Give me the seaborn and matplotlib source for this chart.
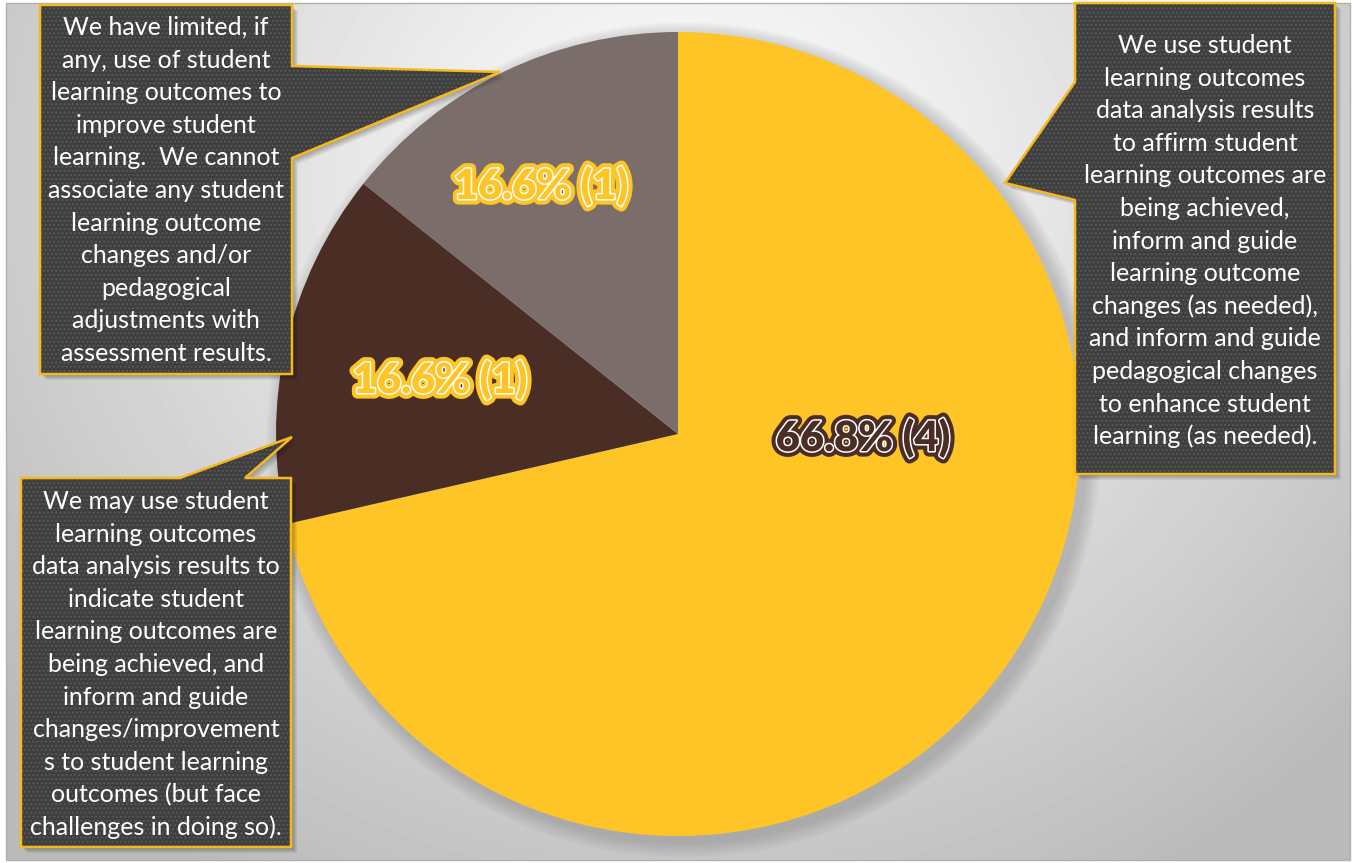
import numpy as np
import matplotlib
matplotlib.use("Agg")
import matplotlib.pyplot as plt
import matplotlib.patheffects as pe
from matplotlib.patches import Polygon, Circle, Rectangle
import seaborn as sns

# shares as drawn in the picture, and the labels printed on the slices
slice_share = [71.4, 14.3, 14.3]
label_pct = [66.8, 16.6, 16.6]
label_count = [4, 1, 1]
slice_colors = ["#FFC425", "#4A2E25", "#7B6E6A"]

callout_texts = [
    ["We use student", "learning outcomes", "data analysis results", "to affirm student",
     "learning outcomes are", "being achieved,", "inform and guide", "learning outcome",
     "changes (as needed),", "and inform and guide", "pedagogical changes",
     "to enhance student", "learning (as needed)."],
    ["We may use student", "learning outcomes", "data analysis results to", "indicate student",
     "learning outcomes are", "being achieved, and", "inform and guide",
     "changes/improvement", "s to student learning", "outcomes (but face",
     "challenges in doing so)."],
    ["We have limited, if", "any, use of student", "learning outcomes to", "improve student",
     "learning.  We cannot", "associate any student", "learning outcome",
     "changes and/or", "pedagogical", "adjustments with", "assessment results."],
]

W, H = 1354, 863
sns.set_theme(style="white")
plt.rcParams["font.family"] = ["Lato", "DejaVu Sans"]

fig = plt.figure(figsize=(W / 100, H / 100), dpi=100)
ax = fig.add_axes([0, 0, 1, 1])
ax.set_xlim(0, W)
ax.set_ylim(0, H)
ax.axis("off")


def fy(y):
    # image pixel row -> axes y
    return H - y


# radial gradient background
gx, gy = np.meshgrid(np.linspace(0, W, 400), np.linspace(0, H, 260))
d = np.sqrt(((gx - 690) / 900) ** 2 + ((gy - fy(180)) / 820) ** 2)
shade = np.clip(1.0 - 0.27 * np.clip(d, 0, 1) ** 1.1, 0, 1)
ax.imshow(shade, extent=[6, 1350, fy(860), fy(3)], cmap="gray", vmin=0, vmax=1,
          origin="lower", aspect="auto", zorder=0, interpolation="bilinear")
ax.add_patch(Rectangle((6, fy(860)), 1344, 857, fill=False, edgecolor="#b0b0b0",
                       linewidth=1, zorder=1))

# pie shadow
cx, cy, r = 678, fy(434), 402
for k in range(10):
    ax.add_patch(Circle((cx + 6, cy - 6), r + 16 - 1.6 * k, color="#707070",
                        alpha=0.035, linewidth=0, zorder=2))

wedges, _ = ax.pie(slice_share, colors=slice_colors, startangle=90, counterclock=False,
                   center=(cx, cy), radius=r, frame=True,
                   wedgeprops=dict(linewidth=0, zorder=3))
for w in wedges:
    w.set_zorder(3)
ax.set_xlim(0, W)
ax.set_ylim(0, H)
ax.axis("off")

# slice labels
label_pos = [(863, 438), (440, 380), (541, 186)]
label_fill = ["#4A2E25", "#FFC425", "#FFC425"]
for (lx, ly), pct, cnt, fc in zip(label_pos, label_pct, label_count, label_fill):
    ax.text(lx, fy(ly), f"{pct:.1f}% ({cnt})", ha="center", va="center",
            fontsize=30, fontweight="heavy", color=fc, zorder=6,
            path_effects=[pe.Stroke(linewidth=8, foreground=fc),
                          pe.Stroke(linewidth=2.2, foreground="white"),
                          pe.Normal()])

# callouts (box with pointer), in image pixel coordinates
callout_shapes = [
    [(1075, 3), (1335, 3), (1335, 474), (1075, 474), (1075, 200), (1005, 183), (1075, 82)],
    [(21, 478), (180, 478), (292, 437), (245, 478), (291, 478), (291, 847), (21, 847)],
    [(40, 5), (292, 5), (292, 66), (500, 72), (292, 158), (292, 374), (40, 374)],
]
text_centres = [(1205, 241), (156, 664.5), (166, 190.5)]
line_step = 32.6

for shape, lines, (tx, ty) in zip(callout_shapes, callout_texts, text_centres):
    pts = [(x, fy(y)) for x, y in shape]
    for k in range(5):
        off = 2 + k
        ax.add_patch(Polygon([(x + off, y - off) for x, y in pts], closed=True,
                             facecolor="black", alpha=0.06, linewidth=0, zorder=7))
    ax.add_patch(Polygon(pts, closed=True, facecolor="#3E3E3E", edgecolor="#585858",
                         hatch="....", linewidth=0, zorder=8))
    ax.add_patch(Polygon(pts, closed=True, fill=False, edgecolor="#F7B81C",
                         linewidth=1.8, joinstyle="miter", zorder=9))
    n = len(lines)
    for i, line in enumerate(lines):
        yy = ty + (i - (n - 1) / 2) * line_step
        ax.text(tx, fy(yy), line, ha="center", va="center", fontsize=18,
                color="white", zorder=10)

fig.savefig("out.png", dpi=100, facecolor="white")
